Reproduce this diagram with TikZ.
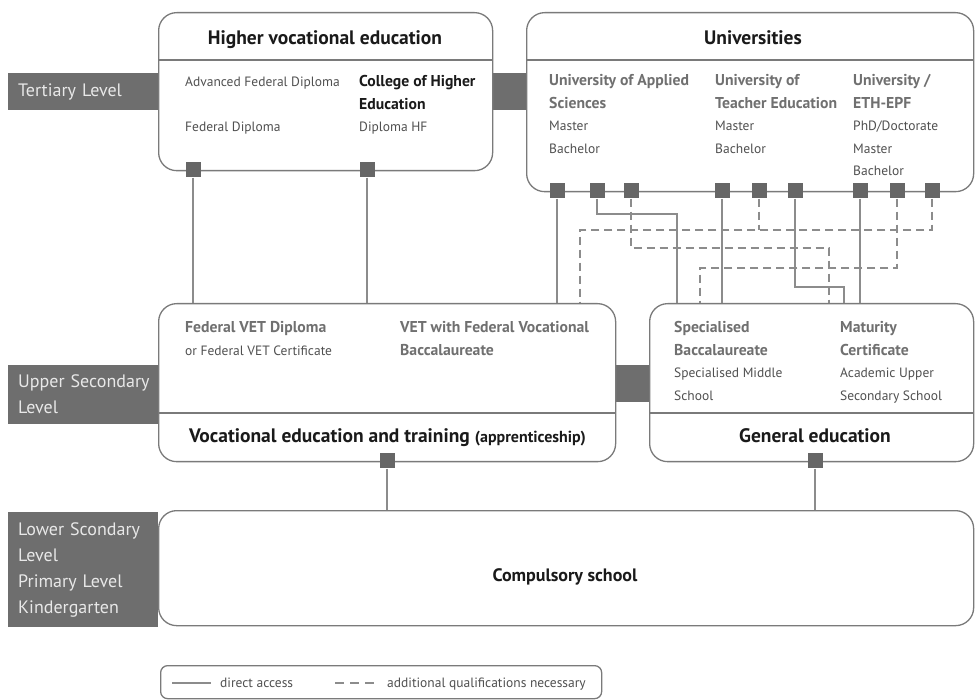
\documentclass[tikz,border=0pt]{standalone}
\usepackage{fontspec}
\setmainfont{PT Sans}
\definecolor{barc}{HTML}{6E6E6E}
\definecolor{boxc}{HTML}{7A7A7A}
\definecolor{connc}{HTML}{8C8C8C}
\definecolor{sqc}{HTML}{666666}
\definecolor{titlec}{HTML}{1A1A1A}
\definecolor{subc}{HTML}{707070}
\definecolor{bodyc}{HTML}{505050}
\definecolor{lvltext}{HTML}{E8E8E8}
\newcommand\subhd[1]{{\bfseries\fontsize{15.7}{22.5}\selectfont\color{subc}#1}}
\newcommand\blk[1]{{\bfseries\fontsize{15.7}{22.5}\selectfont\color{titlec}#1}}
\newcommand\nohyph{\hyphenpenalty=10000\relax\hbadness=10000\relax\hfuzz=50pt\relax}
\begin{document}
\begin{tikzpicture}[x=1pt,y=-1pt,
  box/.style={draw=boxc, line width=1.3pt, rounded corners=18pt, fill=white, inner sep=0pt, anchor=north west},
  barbox/.style={fill=barc, draw=none, inner sep=0pt, anchor=north west},
  lvl/.style={fill=barc, draw=none, text=lvltext, anchor=north west, inner ysep=0pt, inner xsep=10pt,
     text width=130pt, align=left, font=\fontsize{18}{26}\selectfont},
  sq/.style={fill=sqc, draw=none, minimum size=15pt, inner sep=0pt},
  conn/.style={draw=connc, line width=1.3pt},
  dconn/.style={conn, dash pattern=on 8pt off 5pt},
  divider/.style={draw=boxc, line width=1.3pt},
  title/.style={font=\bfseries\fontsize{19.5}{22}\selectfont, text=titlec, inner sep=0pt, anchor=base},
  txt/.style={font=\fontsize{13.5}{22.5}\selectfont, text=bodyc, inner sep=0pt, align=left, anchor=base west}
]
\useasboundingbox (0,0) rectangle (975,700);
\fill[white] (0,0) rectangle (975,700);

% level labels and bars (behind boxes)
\node[lvl, minimum height=37pt] (tert) at (8,73) {\nohyph Tertiary~Level};
\node[lvl, minimum height=59pt] (upper) at (8,365) {\nohyph Upper~Secondary\\Level};
\node[lvl, minimum height=115pt] (lower) at (8,512) {\nohyph Lower~Scondary\\Level\\Primary~Level\\Kindergarten};
\node[barbox, minimum width=38pt, minimum height=37pt] (tbar) at (490,73) {};
\node[barbox, minimum width=38pt, minimum height=37pt] (ubar) at (613,365) {};

% boxes
\node[box, minimum width=334pt, minimum height=158pt] (hve) at (158,12) {};
\node[box, minimum width=447pt, minimum height=179pt] (uni) at (526,12) {};
\node[box, minimum width=457pt, minimum height=158pt] (vet) at (158,303) {};
\node[box, minimum width=324pt, minimum height=158pt] (gen) at (649,303) {};
\node[box, minimum width=815pt, minimum height=115pt] (comp) at (158,510) {};
\node[box, rounded corners=7pt, minimum width=441pt, minimum height=33pt] (leg) at (160,665) {};

% dividers
\draw[divider] (hve.west |- 0,60) -- (hve.east |- 0,60);
\draw[divider] (uni.west |- 0,60) -- (uni.east |- 0,60);
\draw[divider] (vet.west |- 0,413) -- (vet.east |- 0,413);
\draw[divider] (gen.west |- 0,413) -- (gen.east |- 0,413);

% texts
\node[title] (thve) at (325,44.5) {Higher vocational education};
\node[title] (tuni) at (753,44.5) {Universities};
\node[title] (tvet) at (387.5,442.5) {Vocational education and training {\fontsize{16}{18}\selectfont(apprenticeship)}};
\node[title] (tgen) at (815,442.5) {General education};
\node[title, font=\bfseries\fontsize{18}{22}\selectfont] (tcomp) at (565,581) {Compulsory school};

\node[txt] (afd) at (185,87) {Advanced Federal Diploma};
\node[txt] (fd) at (185,132) {Federal Diploma};
% multi-line nodes: base anchor = baseline of the last line
\node[txt] (che) at (359,132) {\blk{College of Higher}\\\blk{Education}\\Diploma HF};
\node[txt] (uas) at (549,153.5) {\subhd{University of Applied}\\\subhd{Sciences}\\Master\\Bachelor};
\node[txt] (ute) at (715,153.5) {\subhd{University of}\\\subhd{Teacher Education}\\Master\\Bachelor};
\node[txt] (eth) at (853,176) {\subhd{University /}\\\subhd{ETH-EPF}\\PhD/Doctorate\\Master\\Bachelor};
\node[txt] (fvd) at (185,355.5) {\subhd{Federal VET Diploma}\\or Federal VET Certificate};
\node[txt] (vfb) at (400,355.5) {\subhd{VET with Federal Vocational}\\\subhd{Baccalaureate}};
\node[txt] (spb) at (674,400.5) {\subhd{Specialised}\\\subhd{Baccalaureate}\\Specialised Middle\\School};
\node[txt] (mat) at (840,400.5) {\subhd{Maturity}\\\subhd{Certificate}\\Academic Upper\\Secondary School};

% squares
\node[sq] (h1) at (193,170) {};
\node[sq] (h2) at (367,170) {};
\foreach \n/\x in {1/557,2/597,3/631,4/722,5/759,6/795,7/860,8/897,9/932}
  \node[sq] (u\n) at (\x,191) {};
\node[sq] (v1) at (387,461) {};
\node[sq] (g1) at (815,461) {};

% bend points
\coordinate (k2) at (677,214);
\coordinate (k3) at (829,248);
\coordinate (k9) at (580,230);
\coordinate (k6) at (844,287);
\coordinate (k8) at (700,268);

% connectors
\draw[conn] (h1) -- (h1 |- vet.north);
\draw[conn] (h2) -- (h2 |- vet.north);
\draw[conn] (u1) -- (u1 |- vet.north);
\draw[conn] (u2) |- (k2) -- (k2 |- gen.north);
\draw[dconn] (u3) |- (k3) -- (k3 |- gen.north);
\draw[conn] (u4) -- (u4 |- gen.north);
\draw[dconn] (u9) |- (k9) -- (k9 |- vet.north);
\draw[dconn] (u5) -- (u5 |- k9);
\draw[conn] (u6) |- (k6) -- (k6 |- gen.north);
\draw[conn] (u7) -- (u7 |- gen.north);
\draw[dconn] (u8) |- (k8) -- (k8 |- gen.north);
\draw[conn] (v1) -- (v1 |- comp.north);
\draw[conn] (g1) -- (g1 |- comp.north);

% legend
\draw[conn] (172,683) -- (211,683);
\node[txt] (lda) at (220,687.5) {direct access};
\draw[dconn, dash pattern=on 9pt off 6pt] (335,683) -- (380,683);
\node[txt] (laq) at (387,687.5) {additional qualifications necessary};
\end{tikzpicture}
\end{document}
